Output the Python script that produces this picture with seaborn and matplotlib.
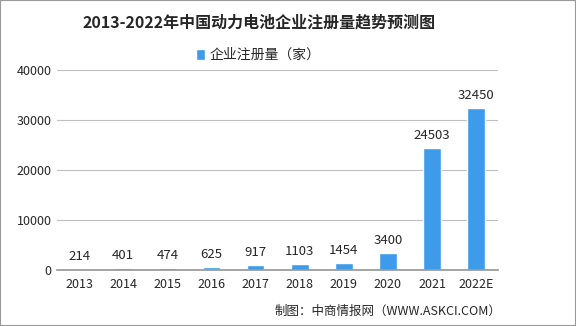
import matplotlib
matplotlib.use("Agg")
import matplotlib.pyplot as plt
import seaborn as sns
import pandas as pd
import numpy as np
from matplotlib.patches import Rectangle

years = ["2013", "2014", "2015", "2016", "2017", "2018", "2019", "2020", "2021", "2022E"]
counts = [214, 401, 474, 625, 917, 1103, 1454, 3400, 24503, 32450]
yticks = [0, 10000, 20000, 30000, 40000]

sns.set_theme(style="white")
plt.rcParams['font.family'] = ['Noto Sans CJK SC', 'DejaVu Sans']

df = pd.DataFrame({"year": years, "count": counts})

fig = plt.figure(figsize=(5.76, 3.26), dpi=100)
ax = fig.add_axes([0.099, 0.172, 0.766, 0.613])
sns.barplot(data=df, x="year", y="count", color="#3d9be9", width=0.4, ax=ax,
            saturation=1, label="企业注册量（家）")

ax.set_ylim(0, 40000)
ax.set_yticks(yticks)
ax.set_yticklabels([str(v) for v in yticks], fontsize=9)
ax.set_xlim(-0.5, len(years) - 0.5)
ax.yaxis.grid(True, color="#bfbfbf", linewidth=0.8)
ax.set_axisbelow(True)
for s in ["top", "right", "left"]:
    ax.spines[s].set_visible(False)
ax.spines["bottom"].set_color("#999999")
ax.set_xlabel("")
ax.set_ylabel("")
ax.tick_params(axis="y", length=0, pad=4)
ax.set_xticks(range(len(years)))
ax.set_xticklabels(years, fontsize=9)
ax.tick_params(axis="x", length=0, pad=6)
ax.set_xticks(np.arange(-0.5, len(years), 1), minor=True)
ax.tick_params(axis="x", which="minor", length=4, color="#999999", direction="out")

for i, v in enumerate(counts):
    ax.text(i, v + 1200, str(v), ha="center", va="bottom", fontsize=9.5)

leg = ax.legend(loc="center", bbox_to_anchor=(0.456, 1.075), frameon=False,
                fontsize=10, handlelength=0.7, handleheight=0.9, handletextpad=0.3)

fig.text(0.45, 0.93, "2013-2022年中国动力电池企业注册量趋势预测图", ha="center", va="center",
         fontsize=11.5, fontweight="bold")
fig.text(0.87, 0.045, "制图：中商情报网（WWW.ASKCI.COM）", ha="right", va="center", fontsize=9)

fig.patches.append(Rectangle((0, 0), 1, 1, transform=fig.transFigure, fill=False,
                             edgecolor="#999999", linewidth=1.5))
fig.savefig("out.png", dpi=100)
